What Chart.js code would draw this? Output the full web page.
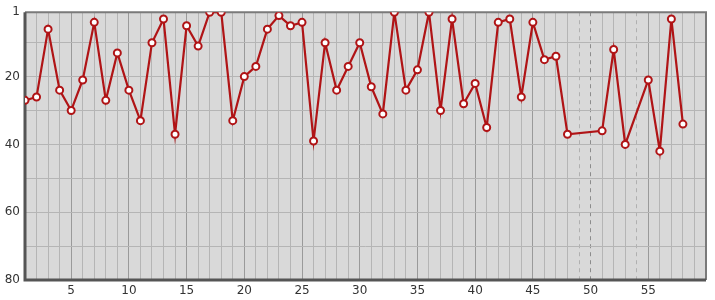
<!DOCTYPE html>
<html lang="en">
<head>
    <meta charset="UTF-8">
    <title>Rank chart</title>
    <script src="https://cdn.jsdelivr.net/npm/chart.js"></script>
    <style>
        body { margin: 0; background: #ffffff; }
    </style>
</head>
<body>
    <canvas id="rankChart" width="715" height="300"></canvas>

    <script>
        // x positions (49, 50, 54 have no value) and the rank read at each
        const positions = [1, 2, 3, 4, 5, 6, 7, 8, 9, 10, 11, 12, 13, 14, 15, 16, 17, 18, 19, 20,
                           21, 22, 23, 24, 25, 26, 27, 28, 29, 30, 31, 32, 33, 34, 35, 36, 37, 38, 39, 40,
                           41, 42, 43, 44, 45, 46, 47, 48, 51, 52, 53, 55, 56, 57, 58];
        const ranks = [27, 26, 6, 24, 30, 21, 4, 27, 13, 24, 33, 10, 3, 37, 5, 11, 1, 1, 33, 20,
                       17, 6, 2, 5, 4, 39, 10, 24, 17, 10, 23, 31, 1, 24, 18, 1, 30, 3, 28, 22,
                       35, 4, 3, 26, 4, 15, 14, 37, 36, 12, 40, 21, 42, 3, 34];
        const missing = [49, 50, 54];
        const xLabels = [5, 10, 15, 20, 25, 30, 35, 40, 45, 50, 55];
        const yTicks = [1, 10, 20, 30, 40, 50, 60, 70, 80];
        const yLabels = [1, 20, 40, 60, 80];

        const points = positions.map(function (p, i) { return { x: p, y: ranks[i] }; });

        const framePlugin = {
            id: 'frame',
            beforeDraw: function (chart) {
                const a = chart.chartArea, ctx = chart.ctx;
                ctx.save();
                ctx.fillStyle = '#d9d9d9';
                ctx.fillRect(a.left, a.top, a.right - a.left, a.bottom - a.top);
                ctx.restore();
            },
            beforeDatasetsDraw: function (chart) {
                const a = chart.chartArea, ctx = chart.ctx;
                ctx.save();
                ctx.strokeStyle = '#7a7a7a';
                ctx.lineWidth = 2;
                ctx.beginPath();
                ctx.moveTo(a.left, a.top);
                ctx.lineTo(a.right, a.top);
                ctx.lineTo(a.right, a.bottom);
                ctx.stroke();
                ctx.strokeStyle = '#555555';
                ctx.lineWidth = 3;
                ctx.beginPath();
                ctx.moveTo(a.left, a.top);
                ctx.lineTo(a.left, a.bottom);
                ctx.lineTo(a.right, a.bottom);
                ctx.stroke();
                ctx.restore();
            }
        };

        new Chart(document.getElementById('rankChart'), {
            type: 'line',
            data: {
                datasets: [{
                    data: points,
                    borderColor: '#b01416',
                    borderWidth: 2.2,
                    pointRadius: 3.5,
                    pointBorderWidth: 2,
                    pointBackgroundColor: '#ffffff',
                    pointBorderColor: '#b01416',
                    tension: 0,
                    fill: false
                }]
            },
            options: {
                responsive: false,
                maintainAspectRatio: false,
                animation: false,
                layout: { padding: { top: 10, right: 9, left: 0, bottom: 0 } },
                plugins: {
                    legend: { display: false },
                    tooltip: { enabled: false }
                },
                scales: {
                    x: {
                        type: 'linear',
                        min: 1,
                        max: 60,
                        afterFit: function (scale) { scale.height = 20; },
                        ticks: {
                            stepSize: 1,
                            autoSkip: false,
                            maxRotation: 0,
                            padding: 4,
                            color: '#333333',
                            font: { family: 'DejaVu Sans', size: 12 },
                            callback: function (v) { return xLabels.indexOf(v) >= 0 ? String(v) : ''; }
                        },
                        grid: {
                            drawTicks: false,
                            color: function (c) {
                                if (missing.indexOf(c.tick.value) >= 0) {
                                    return c.tick.value % 5 === 0 ? '#8c8c8c' : '#b0b0b0';
                                }
                                return c.tick.value % 5 === 0 ? '#9a9a9a' : '#b5b5b5';
                            },
                            lineWidth: 1
                        },
                        border: {
                            display: false,
                            dash: function (c) {
                                return (c.tick && missing.indexOf(c.tick.value) >= 0) ? [4, 4] : [];
                            }
                        }
                    },
                    y: {
                        reverse: true,
                        min: 1,
                        max: 80,
                        afterFit: function (scale) { scale.width = 25; },
                        afterBuildTicks: function (scale) {
                            scale.ticks = yTicks.map(function (v) { return { value: v }; });
                        },
                        ticks: {
                            autoSkip: false,
                            padding: 5,
                            color: '#333333',
                            font: { family: 'DejaVu Sans', size: 12 },
                            callback: function (v) { return yLabels.indexOf(v) >= 0 ? String(v) : ''; }
                        },
                        grid: {
                            drawTicks: false,
                            color: '#b5b5b5',
                            lineWidth: 1
                        },
                        border: { display: false }
                    }
                }
            },
            plugins: [framePlugin]
        });
    </script>
</body>
</html>
